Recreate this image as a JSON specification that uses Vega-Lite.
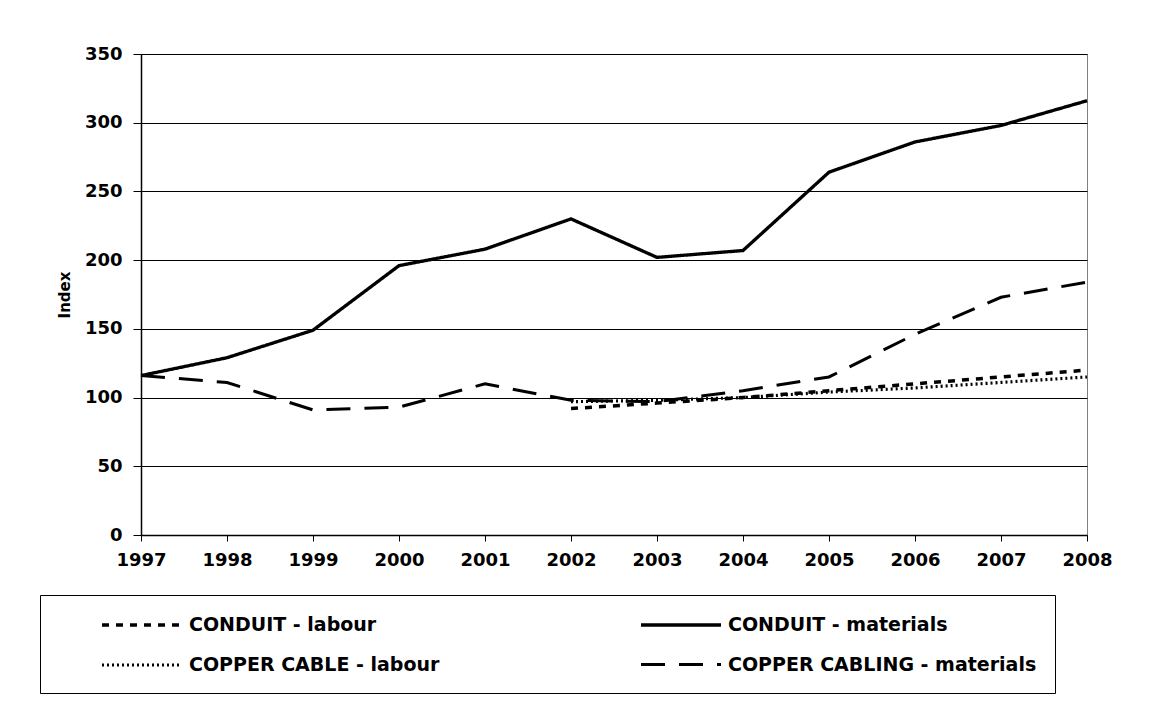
{
  "$schema": "https://vega.github.io/schema/vega-lite/v6.json",
  "width": 946,
  "height": 481,
  "autosize": {"type": "none"},
  "padding": {"left": 141, "top": 54, "right": 67, "bottom": 192},
  "background": "white",
  "config": {
    "font": "DejaVu Sans",
    "view": {"stroke": "#808080", "strokeWidth": 1},
    "axis": {
      "labelFont": "DejaVu Sans",
      "labelFontWeight": "bold",
      "labelFontSize": 18,
      "labelColor": "black",
      "domainColor": "black",
      "tickColor": "black",
      "gridColor": "black",
      "gridOpacity": 1,
      "gridWidth": 1,
      "domainWidth": 1.5
    }
  },
  "data": {
    "values": [
      {"year": 1997, "series": "CONDUIT - materials", "value": 116},
      {"year": 1998, "series": "CONDUIT - materials", "value": 129},
      {"year": 1999, "series": "CONDUIT - materials", "value": 149},
      {"year": 2000, "series": "CONDUIT - materials", "value": 196},
      {"year": 2001, "series": "CONDUIT - materials", "value": 208},
      {"year": 2002, "series": "CONDUIT - materials", "value": 230},
      {"year": 2003, "series": "CONDUIT - materials", "value": 202},
      {"year": 2004, "series": "CONDUIT - materials", "value": 207},
      {"year": 2005, "series": "CONDUIT - materials", "value": 264},
      {"year": 2006, "series": "CONDUIT - materials", "value": 286},
      {"year": 2007, "series": "CONDUIT - materials", "value": 298},
      {"year": 2008, "series": "CONDUIT - materials", "value": 316},
      {"year": 1997, "series": "COPPER CABLING - materials", "value": 116},
      {"year": 1998, "series": "COPPER CABLING - materials", "value": 111},
      {"year": 1999, "series": "COPPER CABLING - materials", "value": 91},
      {"year": 2000, "series": "COPPER CABLING - materials", "value": 93},
      {"year": 2001, "series": "COPPER CABLING - materials", "value": 110},
      {"year": 2002, "series": "COPPER CABLING - materials", "value": 98},
      {"year": 2003, "series": "COPPER CABLING - materials", "value": 97},
      {"year": 2004, "series": "COPPER CABLING - materials", "value": 105},
      {"year": 2005, "series": "COPPER CABLING - materials", "value": 115},
      {"year": 2006, "series": "COPPER CABLING - materials", "value": 146},
      {"year": 2007, "series": "COPPER CABLING - materials", "value": 173},
      {"year": 2008, "series": "COPPER CABLING - materials", "value": 184},
      {"year": 2002, "series": "CONDUIT - labour", "value": 92},
      {"year": 2003, "series": "CONDUIT - labour", "value": 96},
      {"year": 2004, "series": "CONDUIT - labour", "value": 100},
      {"year": 2005, "series": "CONDUIT - labour", "value": 105},
      {"year": 2006, "series": "CONDUIT - labour", "value": 110},
      {"year": 2007, "series": "CONDUIT - labour", "value": 115},
      {"year": 2008, "series": "CONDUIT - labour", "value": 120},
      {"year": 2002, "series": "COPPER CABLE - labour", "value": 97},
      {"year": 2003, "series": "COPPER CABLE - labour", "value": 98},
      {"year": 2004, "series": "COPPER CABLE - labour", "value": 100},
      {"year": 2005, "series": "COPPER CABLE - labour", "value": 104},
      {"year": 2006, "series": "COPPER CABLE - labour", "value": 107},
      {"year": 2007, "series": "COPPER CABLE - labour", "value": 111},
      {"year": 2008, "series": "COPPER CABLE - labour", "value": 115}
    ]
  },
  "mark": {"type": "line", "color": "black", "strokeCap": "butt", "strokeJoin": "miter"},
  "encoding": {
    "x": {
      "field": "year",
      "type": "quantitative",
      "scale": {"domain": [1997, 2008], "nice": false, "zero": false},
      "axis": {
        "values": [1997, 1998, 1999, 2000, 2001, 2002, 2003, 2004, 2005, 2006, 2007, 2008],
        "format": "d",
        "title": null,
        "grid": false,
        "tickSize": 6,
        "labelPadding": 10,
        "labelOverlap": false,
        "labelFlush": false
      }
    },
    "y": {
      "field": "value",
      "type": "quantitative",
      "scale": {"domain": [0, 350], "nice": false},
      "axis": {
        "values": [0, 50, 100, 150, 200, 250, 300, 350],
        "title": "Index",
        "titleFont": "DejaVu Sans",
        "titleFontWeight": "bold",
        "titleFontSize": 15,
        "titleColor": "black",
        "titlePadding": 12,
        "tickSize": 8,
        "labelPadding": 11,
        "grid": true
      }
    },
    "detail": {"field": "series"},
    "strokeDash": {
      "field": "series",
      "type": "nominal",
      "scale": {
        "domain": ["CONDUIT - labour", "CONDUIT - materials", "COPPER CABLE - labour", "COPPER CABLING - materials"],
        "range": [[7, 7], [1, 0], [2, 3], [24, 14]]
      },
      "legend": {
        "title": null,
        "orient": "none",
        "legendX": -101,
        "legendY": 541,
        "direction": "horizontal",
        "columns": 2,
        "columnPadding": 157,
        "rowPadding": 18,
        "padding": 18,
        "symbolType": "M-4,0H4",
        "symbolSize": 400,
        "symbolStrokeWidth": 3,
        "symbolStrokeColor": "black",
        "symbolOffset": 72,
        "labelOffset": 35,
        "labelFont": "DejaVu Sans",
        "labelFontWeight": "bold",
        "labelFontSize": 19,
        "labelColor": "black",
        "labelLimit": 500,
        "strokeColor": "black",
        "fillColor": "white"
      }
    },
    "strokeWidth": {
      "field": "series",
      "type": "nominal",
      "scale": {
        "domain": ["CONDUIT - labour", "CONDUIT - materials", "COPPER CABLE - labour", "COPPER CABLING - materials"],
        "range": [3.5, 3, 1.5, 3.5]
      },
      "legend": null
    }
  }
}
